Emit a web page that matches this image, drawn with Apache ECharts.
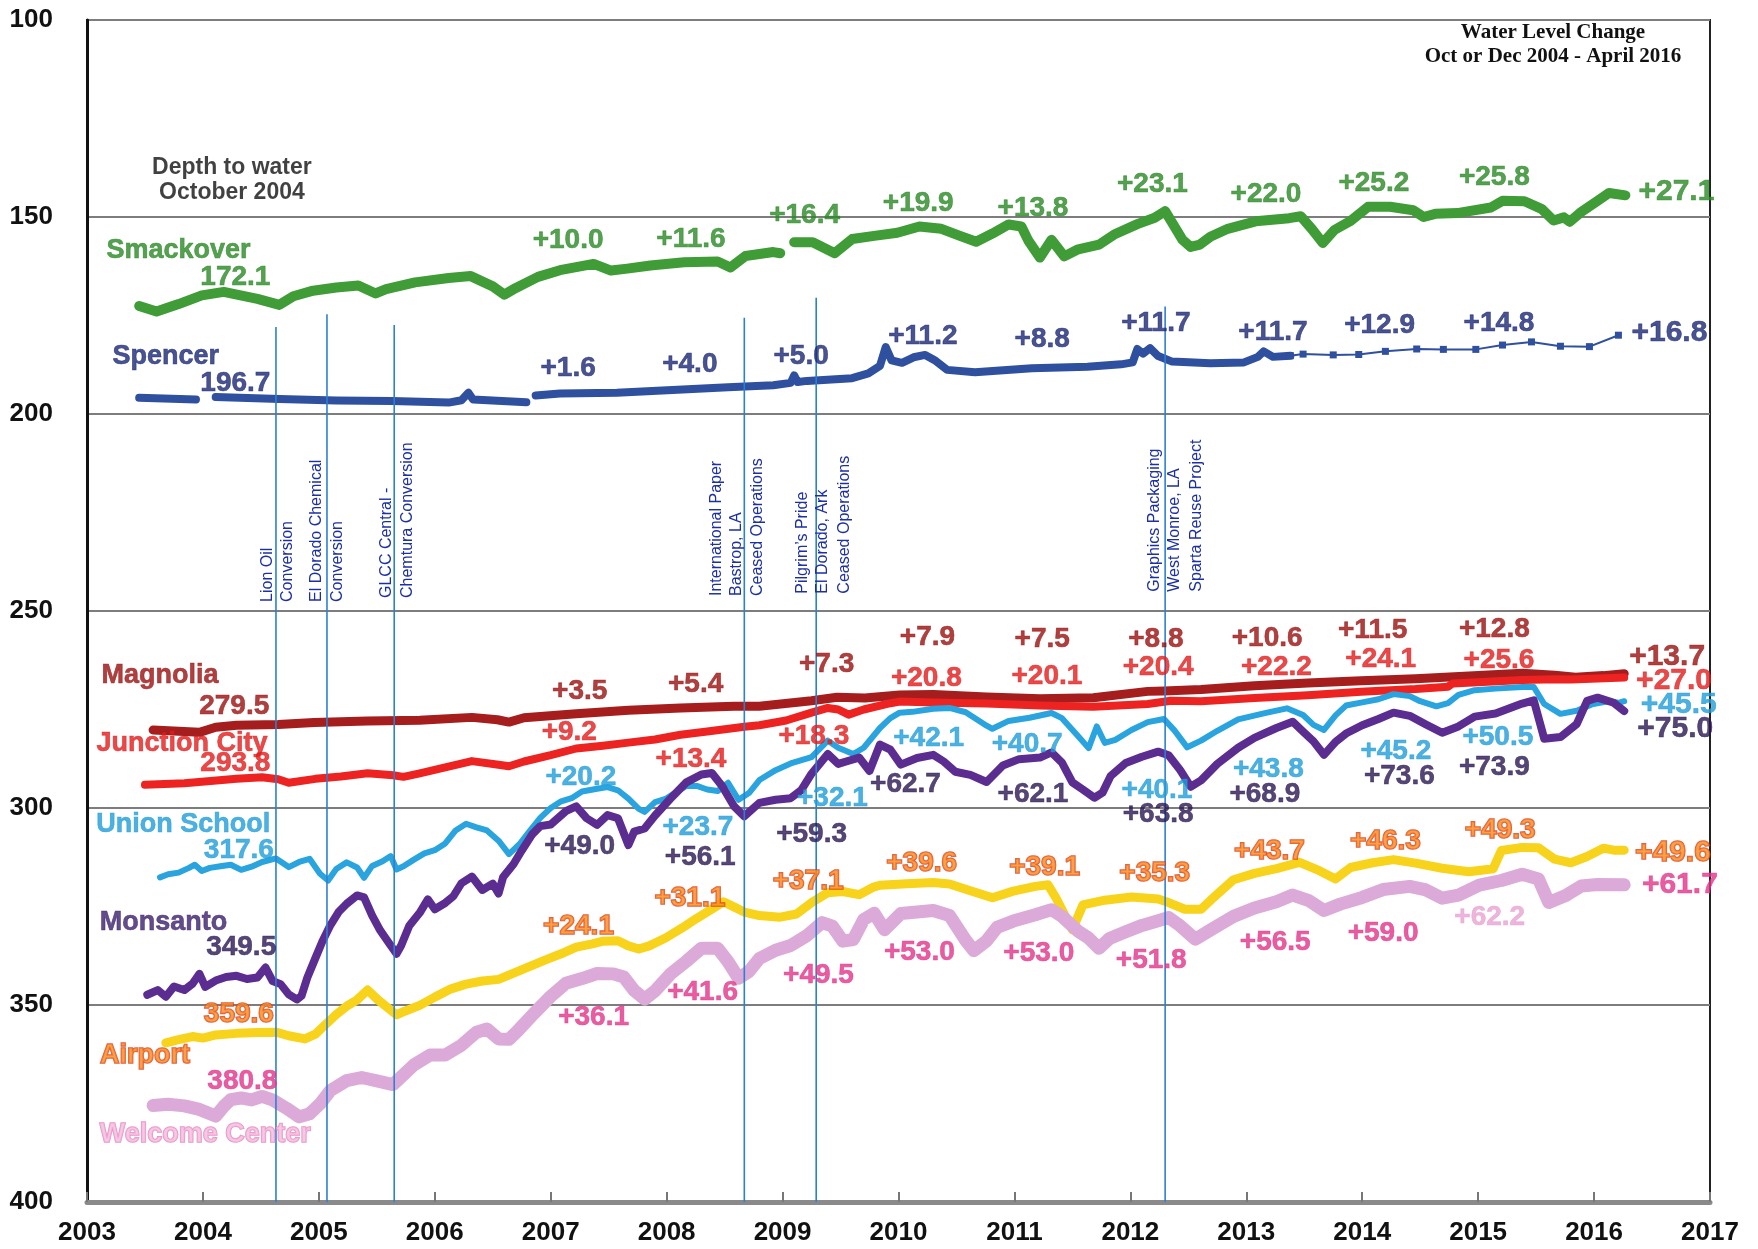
<!DOCTYPE html>
<html>
<head>
<meta charset="utf-8">
<script src="https://cdn.jsdelivr.net/npm/echarts@6/dist/echarts.min.js"></script>
<style>
  html, body { margin: 0; padding: 0; background: #fff; }
  #chart { width: 1758px; height: 1249px; }
</style>
</head>
<body>
<div id="chart"></div>
<script>
// axis ranges (depth to water, feet; inverted)
var yearRange = [2003, 2017];
var depthRange = [100, 400];
var depthStep = 50;

// ---- water level series: [decimal year, depth] ----
var smackover = [[2003.45,172.6],[2003.60,174.0],[2003.79,172.1],[2003.99,169.9],[2004.18,169.0],[2004.47,170.8],[2004.66,172.3],[2004.78,170.1],[2004.95,168.7],[2005.15,167.9],[2005.34,167.4],[2005.49,169.4],[2005.58,168.3],[2005.83,166.6],[2006.12,165.5],[2006.31,165.0],[2006.50,167.6],[2006.60,169.7],[2006.70,168.0],[2006.89,165.2],[2007.08,163.5],[2007.37,161.9],[2007.52,163.6],[2007.66,163.1],[2007.86,162.3],[2008.15,161.5],[2008.44,161.3],[2008.55,162.8],[2008.68,159.9],[2008.92,158.9],[2008.98,159.2],[2009.04,'-'],[2009.10,156.4],[2009.26,156.4],[2009.45,159.2],[2009.60,155.6],[2009.79,154.8],[2009.99,154.0],[2010.18,152.4],[2010.37,153.0],[2010.53,154.8],[2010.67,156.3],[2010.81,154.2],[2010.95,151.9],[2011.06,152.4],[2011.12,156.0],[2011.22,160.3],[2011.32,155.8],[2011.43,160.0],[2011.55,158.2],[2011.73,157.0],[2011.87,154.3],[2012.06,151.8],[2012.21,150.2],[2012.30,148.5],[2012.45,155.8],[2012.52,157.6],[2012.60,157.0],[2012.69,155.0],[2012.84,153.0],[2013.08,151.1],[2013.37,150.3],[2013.47,149.8],[2013.57,153.2],[2013.66,156.6],[2013.76,153.3],[2013.90,151.0],[2014.05,147.4],[2014.24,147.4],[2014.44,148.3],[2014.53,150.0],[2014.63,149.2],[2014.82,149.0],[2015.11,147.6],[2015.21,145.9],[2015.40,146.0],[2015.55,148.0],[2015.65,150.9],[2015.74,150.1],[2015.79,151.2],[2015.89,148.7],[2016.03,145.9],[2016.13,143.9],[2016.27,144.5]];

var spencer = [[2003.45,195.9],[2003.94,196.3],[2004.02,'-'],[2004.11,195.7],[2004.66,196.2],[2005.15,196.6],[2005.63,196.7],[2006.12,197.1],[2006.23,196.5],[2006.29,194.6],[2006.33,196.3],[2006.79,197.0],[2006.83,'-'],[2006.87,195.3],[2007.08,194.8],[2007.57,194.6],[2008.05,193.9],[2008.53,193.2],[2008.92,192.7],[2009.07,192.1],[2009.10,190.2],[2009.13,191.9],[2009.21,191.6],[2009.60,190.9],[2009.74,189.7],[2009.84,187.8],[2009.89,183.0],[2009.94,186.4],[2010.03,187.0],[2010.13,185.6],[2010.23,185.0],[2010.32,186.5],[2010.42,188.8],[2010.66,189.4],[2011.15,188.4],[2011.63,188.0],[2011.92,187.4],[2012.02,186.9],[2012.06,183.5],[2012.11,184.7],[2012.17,183.3],[2012.24,185.3],[2012.36,186.7],[2012.69,187.1],[2012.98,186.9],[2013.10,185.5],[2013.15,184.1],[2013.23,185.5],[2013.38,185.2]];
var spencerRecent = [[2013.38,185.2],[2013.49,184.8],[2013.75,185.0],[2013.97,184.9],[2014.20,184.1],[2014.47,183.5],[2014.70,183.6],[2014.98,183.6],[2015.21,182.5],[2015.46,181.7],[2015.71,182.8],[2015.96,182.9],[2016.21,180.0]];

var magnolia = [[2003.57,280.2],[2003.97,280.8],[2004.11,279.5],[2004.29,279.0],[2004.65,278.8],[2004.96,278.3],[2005.42,277.9],[2005.87,277.7],[2006.32,277.0],[2006.54,277.6],[2006.64,278.2],[2006.77,277.1],[2007.22,276.1],[2007.67,275.2],[2008.12,274.6],[2008.58,274.2],[2008.80,274.2],[2009.25,272.8],[2009.47,271.9],[2009.71,272.1],[2010.01,271.3],[2010.30,271.2],[2010.76,271.8],[2011.22,272.3],[2011.68,272.0],[2012.15,270.4],[2012.29,270.3],[2012.61,269.9],[2013.07,269.0],[2013.53,268.3],[2013.99,267.7],[2014.46,267.2],[2014.92,266.5],[2015.38,265.8],[2015.66,266.3],[2015.84,266.8],[2016.08,266.4],[2016.26,265.9]];

var junctionCity = [[2003.50,294.1],[2003.84,293.7],[2004.29,292.6],[2004.51,292.2],[2004.65,292.7],[2004.74,293.6],[2004.97,292.6],[2005.19,292.0],[2005.42,291.2],[2005.64,291.7],[2005.73,292.1],[2005.87,291.2],[2006.09,289.7],[2006.32,288.1],[2006.55,289.0],[2006.64,289.4],[2006.77,288.2],[2007.00,286.6],[2007.22,284.9],[2007.45,284.2],[2007.67,283.4],[2007.90,282.6],[2008.12,281.4],[2008.35,280.6],[2008.67,279.4],[2008.80,279.0],[2009.03,277.8],[2009.25,275.8],[2009.39,274.6],[2009.48,275.0],[2009.57,276.3],[2009.70,275.0],[2009.93,273.4],[2010.01,273.0],[2010.30,273.2],[2010.76,273.5],[2011.22,274.0],[2011.68,274.3],[2012.15,273.6],[2012.35,272.8],[2012.61,272.9],[2013.07,272.1],[2013.53,271.4],[2013.99,270.5],[2014.46,269.8],[2014.74,269.2],[2014.78,268.4],[2015.38,267.5],[2015.66,267.3],[2015.80,267.4],[2016.26,266.9]];

var unionSchool = [[2003.63,317.6],[2003.70,316.8],[2003.79,316.4],[2003.88,315.2],[2003.93,314.4],[2003.99,316.0],[2004.06,315.2],[2004.15,314.8],[2004.24,314.4],[2004.33,315.7],[2004.42,314.9],[2004.51,313.7],[2004.63,312.8],[2004.74,315.0],[2004.83,313.7],[2004.92,312.9],[2005.01,316.7],[2005.08,318.4],[2005.15,315.5],[2005.24,313.8],[2005.33,315.1],[2005.39,317.7],[2005.46,314.7],[2005.55,313.5],[2005.62,312.2],[2005.67,315.6],[2005.73,314.8],[2005.82,313.1],[2005.91,311.5],[2006.00,310.7],[2006.09,309.0],[2006.18,305.7],[2006.27,304.0],[2006.36,304.9],[2006.45,305.7],[2006.55,308.3],[2006.64,311.7],[2006.73,309.2],[2006.82,305.8],[2006.91,302.5],[2007.00,300.0],[2007.09,298.3],[2007.18,297.5],[2007.27,295.8],[2007.40,295.1],[2007.49,294.7],[2007.58,295.5],[2007.67,297.6],[2007.76,300.2],[2007.81,301.0],[2007.90,298.5],[2007.99,297.7],[2008.08,296.0],[2008.17,294.4],[2008.26,294.4],[2008.35,295.3],[2008.44,295.7],[2008.53,293.6],[2008.62,297.9],[2008.71,296.2],[2008.80,292.9],[2008.94,290.4],[2009.07,288.7],[2009.25,287.1],[2009.39,282.9],[2009.48,284.7],[2009.61,286.3],[2009.70,284.7],[2009.84,279.7],[2009.93,277.2],[2010.01,275.8],[2010.12,275.6],[2010.30,274.8],[2010.44,274.6],[2010.58,275.7],[2010.76,279.1],[2010.81,279.9],[2010.95,277.9],[2011.13,277.1],[2011.32,275.9],[2011.41,277.2],[2011.55,281.8],[2011.64,284.8],[2011.71,279.3],[2011.78,283.5],[2011.87,282.7],[2012.01,280.2],[2012.15,278.2],[2012.29,277.4],[2012.38,280.3],[2012.49,284.6],[2012.61,282.9],[2012.75,280.4],[2012.93,277.5],[2013.16,275.9],[2013.35,274.7],[2013.49,276.4],[2013.58,278.9],[2013.67,280.2],[2013.77,276.5],[2013.86,274.0],[2014.00,273.2],[2014.14,272.4],[2014.27,271.1],[2014.41,271.6],[2014.50,272.9],[2014.64,274.2],[2014.74,273.4],[2014.83,271.3],[2014.97,270.1],[2015.15,269.7],[2015.38,269.3],[2015.48,269.3],[2015.57,273.6],[2015.71,276.1],[2015.85,275.3],[2015.98,273.7],[2016.12,272.9],[2016.21,273.3],[2016.26,272.9]];

var monsanto = [[2003.52,347.4],[2003.61,346.2],[2003.68,347.9],[2003.75,345.3],[2003.84,346.2],[2003.91,344.6],[2003.97,342.1],[2004.02,345.4],[2004.11,343.8],[2004.20,342.9],[2004.29,342.6],[2004.38,343.4],[2004.47,343.0],[2004.54,340.5],[2004.60,343.9],[2004.67,344.7],[2004.74,347.3],[2004.81,348.6],[2004.85,347.7],[2004.90,343.1],[2004.97,338.1],[2005.03,333.9],[2005.10,329.7],[2005.17,326.4],[2005.24,324.3],[2005.33,322.2],[2005.39,322.7],[2005.46,327.3],[2005.53,331.1],[2005.60,334.1],[2005.67,337.0],[2005.71,334.9],[2005.78,329.9],[2005.87,326.6],[2005.94,323.2],[2006.00,325.7],[2006.09,324.1],[2006.16,322.4],[2006.23,319.1],[2006.32,317.4],[2006.41,320.8],[2006.50,319.2],[2006.55,321.7],[2006.59,317.5],[2006.68,314.2],[2006.75,310.8],[2006.84,306.7],[2006.91,304.6],[2007.00,304.2],[2007.13,300.8],[2007.22,299.6],[2007.31,302.6],[2007.40,304.3],[2007.49,301.8],[2007.58,302.6],[2007.67,309.4],[2007.72,306.0],[2007.81,305.2],[2007.90,301.9],[2008.03,297.7],[2008.17,293.5],[2008.30,291.5],[2008.39,291.1],[2008.48,294.5],[2008.58,299.5],[2008.67,302.1],[2008.80,298.7],[2008.94,297.9],[2009.07,297.5],[2009.16,295.5],[2009.25,291.3],[2009.39,286.3],[2009.48,288.8],[2009.57,288.0],[2009.66,287.2],[2009.75,290.6],[2009.84,283.9],[2009.93,285.2],[2010.02,289.0],[2010.16,287.3],[2010.30,286.5],[2010.39,288.2],[2010.49,290.8],[2010.62,291.6],[2010.76,293.4],[2010.90,289.2],[2011.04,287.6],[2011.22,287.2],[2011.32,285.9],[2011.41,288.5],[2011.50,293.5],[2011.59,295.3],[2011.69,297.4],[2011.76,296.1],[2011.83,291.9],[2011.96,288.6],[2012.10,287.0],[2012.24,285.7],[2012.33,286.6],[2012.43,290.4],[2012.52,294.6],[2012.61,293.0],[2012.75,288.8],[2012.93,284.7],[2013.07,282.2],[2013.26,279.7],[2013.40,278.1],[2013.49,280.6],[2013.58,283.1],[2013.67,286.5],[2013.77,283.2],[2013.86,281.1],[2014.00,279.0],[2014.14,277.4],[2014.27,275.8],[2014.41,276.6],[2014.55,278.8],[2014.69,280.9],[2014.83,279.3],[2014.97,276.8],[2015.15,276.0],[2015.38,273.5],[2015.48,272.7],[2015.57,282.4],[2015.71,282.0],[2015.85,278.7],[2015.94,272.8],[2016.03,272.0],[2016.17,273.3],[2016.26,275.4]];

var airport = [[2003.68,359.6],[2003.79,358.8],[2003.91,358.0],[2004.00,358.4],[2004.11,357.6],[2004.29,357.2],[2004.47,357.0],[2004.63,356.9],[2004.74,357.8],[2004.88,358.6],[2004.97,357.4],[2005.06,354.9],[2005.15,352.4],[2005.24,350.3],[2005.33,348.7],[2005.42,346.2],[2005.51,348.7],[2005.60,350.8],[2005.67,352.5],[2005.73,351.7],[2005.87,350.1],[2006.00,348.0],[2006.14,345.9],[2006.27,344.7],[2006.41,343.9],[2006.55,343.5],[2006.68,341.9],[2006.82,340.2],[2006.95,338.6],[2007.09,337.0],[2007.22,335.3],[2007.36,334.5],[2007.45,333.8],[2007.58,333.7],[2007.67,335.0],[2007.76,335.8],[2007.85,335.0],[2007.99,333.0],[2008.13,330.5],[2008.26,328.0],[2008.40,325.5],[2008.49,323.8],[2008.58,325.1],[2008.67,326.4],[2008.80,327.3],[2008.98,327.7],[2009.12,326.9],[2009.25,324.0],[2009.39,321.5],[2009.52,321.2],[2009.66,322.0],[2009.79,320.0],[2009.84,319.6],[2010.07,319.2],[2010.30,318.9],[2010.44,319.3],[2010.62,321.0],[2010.81,322.8],[2010.99,321.1],[2011.18,319.9],[2011.29,319.5],[2011.36,322.9],[2011.50,330.9],[2011.59,324.6],[2011.78,323.4],[2012.01,322.6],[2012.24,323.1],[2012.33,324.0],[2012.47,325.7],[2012.61,325.7],[2012.70,323.2],[2012.89,318.2],[2013.07,316.6],[2013.26,315.4],[2013.46,313.8],[2013.63,315.9],[2013.77,318.0],[2013.90,315.1],[2014.09,313.9],[2014.27,313.1],[2014.46,314.0],[2014.69,315.3],[2014.92,316.2],[2015.13,315.4],[2015.20,310.8],[2015.38,310.0],[2015.52,310.1],[2015.66,313.0],[2015.80,313.9],[2015.94,312.3],[2016.08,310.2],[2016.17,310.7],[2016.26,310.7]];

var welcomeCenter = [[2003.57,375.5],[2003.70,375.2],[2003.84,375.6],[2003.97,376.5],[2004.11,378.2],[2004.18,375.7],[2004.24,374.0],[2004.33,373.6],[2004.42,374.1],[2004.51,373.2],[2004.60,374.1],[2004.72,376.2],[2004.83,378.4],[2004.92,377.6],[2005.01,375.1],[2005.10,371.7],[2005.24,369.2],[2005.37,368.4],[2005.51,369.3],[2005.64,370.2],[2005.73,367.7],[2005.82,365.2],[2005.96,362.7],[2006.09,362.7],[2006.23,360.2],[2006.36,356.9],[2006.45,356.1],[2006.55,358.6],[2006.64,358.7],[2006.73,356.1],[2006.86,352.0],[2007.00,347.8],[2007.13,344.5],[2007.27,343.3],[2007.40,342.0],[2007.54,342.1],[2007.63,342.9],[2007.72,346.3],[2007.81,348.5],[2007.90,346.4],[2008.03,342.2],[2008.17,338.9],[2008.30,335.6],[2008.44,335.6],[2008.53,339.0],[2008.62,343.2],[2008.71,341.5],[2008.80,338.2],[2008.94,336.1],[2009.07,334.9],[2009.21,332.4],[2009.34,329.1],[2009.43,330.0],[2009.52,333.8],[2009.61,333.4],[2009.70,328.3],[2009.79,326.7],[2009.88,330.9],[2010.02,326.8],[2010.16,326.4],[2010.30,326.0],[2010.44,327.3],[2010.58,333.6],[2010.65,336.2],[2010.76,333.7],[2010.85,330.3],[2010.99,328.7],[2011.18,327.1],[2011.32,325.8],[2011.41,327.5],[2011.55,331.3],[2011.64,333.0],[2011.73,335.6],[2011.82,333.1],[2011.96,331.4],[2012.10,329.8],[2012.24,328.6],[2012.33,327.8],[2012.43,329.9],[2012.56,333.3],[2012.70,330.8],[2012.89,327.5],[2013.07,325.4],[2013.26,323.8],[2013.40,322.1],[2013.54,323.5],[2013.67,326.0],[2013.81,324.4],[2014.00,322.7],[2014.18,320.7],[2014.41,319.9],[2014.55,320.8],[2014.69,322.9],[2014.83,322.1],[2015.01,319.6],[2015.20,318.4],[2015.38,316.8],[2015.52,318.0],[2015.61,324.0],[2015.75,322.3],[2015.89,319.8],[2016.03,319.4],[2016.26,319.5]];

// ---- annotations: [year, depth, text]; first = well name, second = Oct 2004 depth, last = total change ----
var smackoverNotes = [[2003.79,158.4,'Smackover'],[2004.28,165.4,'172.1'],[2007.15,155.9,'+10.0'],[2008.21,155.6,'+11.6'],[2009.19,149.5,'+16.4'],[2010.17,146.4,'+19.9'],[2011.16,147.8,'+13.8'],[2012.19,141.8,'+23.1'],[2013.17,144.3,'+22.0'],[2014.10,141.4,'+25.2'],[2015.14,140.0,'+25.8'],[2016.71,143.7,'+27.1']];
var spencerNotes = [[2003.68,185.4,'Spencer'],[2004.28,192.1,'196.7'],[2007.15,188.5,'+1.6'],[2008.20,187.4,'+4.0'],[2009.16,185.3,'+5.0'],[2010.21,180.2,'+11.2'],[2011.24,181.0,'+8.8'],[2012.22,177.0,'+11.7'],[2013.23,179.3,'+11.7'],[2014.15,177.5,'+12.9'],[2015.18,176.9,'+14.8'],[2016.65,179.5,'+16.8']];
var magnoliaNotes = [[2003.63,266.4,'Magnolia'],[2004.27,274.2,'279.5'],[2007.25,270.4,'+3.5'],[2008.25,268.6,'+5.4'],[2009.38,263.5,'+7.3'],[2010.25,256.6,'+7.9'],[2011.24,257.2,'+7.5'],[2012.22,257.1,'+8.8'],[2013.18,256.8,'+10.6'],[2014.09,255.0,'+11.5'],[2015.14,254.7,'+12.8'],[2016.63,261.6,'+13.7']];
var junctionNotes = [[2003.82,283.7,'Junction City'],[2004.28,288.7,'293.8'],[2007.16,280.9,'+9.2'],[2008.21,287.7,'+13.4'],[2009.27,281.7,'+18.3'],[2010.24,267.2,'+20.8'],[2011.28,266.6,'+20.1'],[2012.24,264.2,'+20.4'],[2013.26,264.2,'+22.2'],[2014.16,262.2,'+24.1'],[2015.18,262.4,'+25.6'],[2016.69,267.6,'+27.0']];
var unionNotes = [[2003.83,304.2,'Union School'],[2004.31,310.8,'317.6'],[2007.26,292.2,'+20.2'],[2008.27,305.0,'+23.7'],[2009.43,297.6,'+32.1'],[2010.26,282.2,'+42.1'],[2011.11,283.8,'+40.7'],[2012.23,295.4,'+40.1'],[2013.19,290.1,'+43.8'],[2014.29,285.5,'+45.2'],[2015.17,282.0,'+50.5'],[2016.73,273.9,'+45.5']];
var monsantoNotes = [[2003.66,329.1,'Monsanto'],[2004.33,335.3,'349.5'],[2007.25,309.6,'+49.0'],[2008.29,312.4,'+56.1'],[2009.25,306.7,'+59.3'],[2010.06,294.1,'+62.7'],[2011.16,296.4,'+62.1'],[2012.24,301.7,'+63.8'],[2013.16,296.6,'+68.9'],[2014.32,292.0,'+73.6'],[2015.14,289.7,'+73.9'],[2016.70,279.8,'+75.0']];
var airportNotes = [[2003.50,362.9,'Airport'],[2004.31,352.3,'359.6'],[2007.24,330.0,'+24.1'],[2008.20,322.9,'+31.1'],[2009.22,318.6,'+37.1'],[2010.20,314.0,'+39.6'],[2011.26,315.1,'+39.1'],[2012.21,316.5,'+35.3'],[2013.20,311.1,'+43.7'],[2014.20,308.5,'+46.3'],[2015.19,305.6,'+49.3'],[2016.68,311.4,'+49.6']];
var welcomeNotes = [[2004.02,382.9,'Welcome Center'],[2004.34,369.4,'380.8'],[2007.37,353.1,'+36.1'],[2008.31,346.8,'+41.6'],[2009.31,342.5,'+49.5'],[2010.18,336.7,'+53.0'],[2011.21,337.0,'+53.0'],[2012.18,338.7,'+51.8'],[2013.25,334.1,'+56.5'],[2014.18,331.8,'+59.0'],[2015.10,327.7,'+62.2'],[2016.74,319.6,'+61.7']];
var depthNote = [2004.25, 140.7, 'Depth to water\nOctober 2004'];

// ---- events: vertical markers ----
var eventYears = [2004.63, 2005.07, 2005.65, 2008.67, 2009.29, 2012.30];
var eventTops = [177.9, 174.7, 177.4, 175.6, 170.5, 172.7];
var eventNotes = [[2004.557,247.7,'Lion Oil'],[2004.730,247.7,'Conversion'],[2004.980,247.7,'El Dorado Chemical'],[2005.161,247.7,'Conversion'],[2005.584,246.7,'GLCC Central -'],[2005.765,246.7,'Chemtura Conversion'],[2008.431,246.2,'International Paper'],[2008.604,246.2,'Bastrop, LA'],[2008.785,246.2,'Ceased Operations'],[2009.173,245.6,'Pilgrim\u2019s Pride'],[2009.346,245.6,'El Dorado, Ark'],[2009.536,245.6,'Ceased Operations'],[2012.211,245.1,'Graphics Packaging'],[2012.383,245.1,'West Monroe, LA'],[2012.573,245.1,'Sparta Reuse Project']];

var FONT = '"Liberation Sans", Arial, sans-serif';

var wells = [
  { data: magnolia,      notes: magnoliaNotes,  line: '#a61d1d', text: '#9a1010', width: 9 },
  { data: junctionCity,  notes: junctionNotes,  line: '#ec2320', text: '#e41b1b', width: 8 },
  { data: unionSchool,   notes: unionNotes,     line: '#2aa4de', text: '#1f9ed9', width: 6 },
  { data: monsanto,      notes: monsantoNotes,  line: '#5c2d91', text: '#2a1852', nameColor: '#3b1f6c', width: 8 },
  { data: airport,       notes: airportNotes,   line: '#f8d31b', text: '#f7891d', border: '#d9331c', width: 9 },
  { data: welcomeCenter, notes: welcomeNotes,   line: '#dcaad8', text: '#e2348a', nameColor: '#f4badf', nameBorder: '#e07cb8', width: 13 },
  { data: smackover,     notes: smackoverNotes, line: '#3f9c36', text: '#2b8a25', width: 10 },
  { data: spencer,       notes: spencerNotes,   line: '#2f4f9f', text: '#1c2874', width: 8 }
];

var series = [];
wells.forEach(function (w) {
  series.push({
    type: 'line', data: w.data, showSymbol: false, silent: true, z: 2,
    lineStyle: { color: w.line, width: w.width, join: 'round', cap: 'round' }
  });
});
series.push({
  type: 'line', data: spencerRecent, silent: true, z: 2,
  symbol: 'rect', symbolSize: 7, showSymbol: true,
  itemStyle: { color: '#2f4f9f' },
  lineStyle: { color: '#2f4f9f', width: 2 }
});

// event lines
var eventLineData = [];
eventYears.forEach(function (yr, i) {
  eventLineData.push([yr, eventTops[i]], [yr, depthRange[1]], [yr, '-']);
});
series.push({
  type: 'line', data: eventLineData, showSymbol: false, silent: true, z: 3,
  lineStyle: { color: '#2c80d2', width: 1.6 }
});

// text annotations
wells.forEach(function (w) {
  var last = w.notes.length - 1;
  series.push({
    type: 'scatter', symbolSize: 1, silent: true, z: 6,
    itemStyle: { color: 'rgba(0,0,0,0)' },
    label: {
      show: true, position: 'inside', formatter: '{b}',
      fontFamily: FONT, fontWeight: 'bold', fontSize: 28, color: w.text,
      textBorderColor: w.border || w.text, textBorderWidth: w.border ? 1.6 : 0.6
    },
    data: w.notes.map(function (n, i) {
      var lab = {};
      if (i === 0) {
        lab.fontSize = 27;
        if (w.nameColor) { lab.color = w.nameColor; lab.textBorderColor = w.nameColor; }
        if (w.nameBorder) { lab.textBorderColor = w.nameBorder; lab.textBorderWidth = 1.5; }
      } else if (i === last) {
        lab.fontSize = 30;
      }
      if (n[2] === '+62.2') { lab.color = '#e8a2d2'; lab.textBorderColor = '#e8a2d2'; }
      return { name: n[2], value: [n[0], n[1]], label: lab };
    })
  });
});
series.push({
  type: 'scatter', symbolSize: 1, silent: true, z: 6,
  itemStyle: { color: 'rgba(0,0,0,0)' },
  label: { show: true, position: 'inside', formatter: '{b}', fontFamily: FONT, fontWeight: 'bold',
           fontSize: 23, lineHeight: 25, color: '#111', align: 'center' },
  data: [{ name: depthNote[2], value: [depthNote[0], depthNote[1]] }]
});

var chart = echarts.init(document.getElementById('chart'));
chart.setOption({
  animation: false,
  backgroundColor: '#fff',
  title: {
    text: 'Water Level Change\nOct or Dec 2004 - April 2016',
    left: 1548, top: 16, textAlign: 'center',
    textStyle: { fontFamily: '"Liberation Serif", "Times New Roman", serif', fontWeight: 'bold',
                 fontSize: 21, lineHeight: 24, color: '#111' }
  },
  grid: { left: 87, right: 48, top: 20, bottom: 47, show: true, borderColor: '#222', borderWidth: 2 },
  xAxis: {
    type: 'value', min: yearRange[0], max: yearRange[1], interval: 1,
    axisLine: { show: true, lineStyle: { color: '#8a8a8a', width: 5 } },
    axisTick: { show: true, inside: true, length: 10, lineStyle: { color: '#777', width: 2 } },
    splitLine: { show: false },
    axisLabel: { formatter: function (v) { return String(v); }, fontFamily: FONT, fontWeight: 'bold',
                 fontSize: 26, color: '#111', margin: 18 }
  },
  yAxis: {
    type: 'value', inverse: true, min: depthRange[0], max: depthRange[1], interval: depthStep,
    axisLine: { show: true, lineStyle: { color: '#111', width: 3 } },
    axisTick: { show: false },
    splitLine: { show: true, lineStyle: { color: '#7d7d7d', width: 2 } },
    axisLabel: { fontFamily: FONT, fontWeight: 'bold', fontSize: 26, color: '#111', margin: 34 }
  },
  series: series
});

// rotated event captions placed through the axes
var graphics = eventNotes.map(function (n) {
  var p = chart.convertToPixel({ xAxisIndex: 0, yAxisIndex: 0 }, [n[0], n[1]]);
  return {
    type: 'text', x: p[0], y: p[1], rotation: Math.PI / 2, silent: true, z: 10,
    style: {
      text: n[2], fill: '#1c30a2', font: '16px ' + FONT,
      align: 'left', verticalAlign: 'middle', textAlign: 'left', textVerticalAlign: 'middle'
    }
  };
});
chart.setOption({ graphic: graphics });
</script>
</body>
</html>
